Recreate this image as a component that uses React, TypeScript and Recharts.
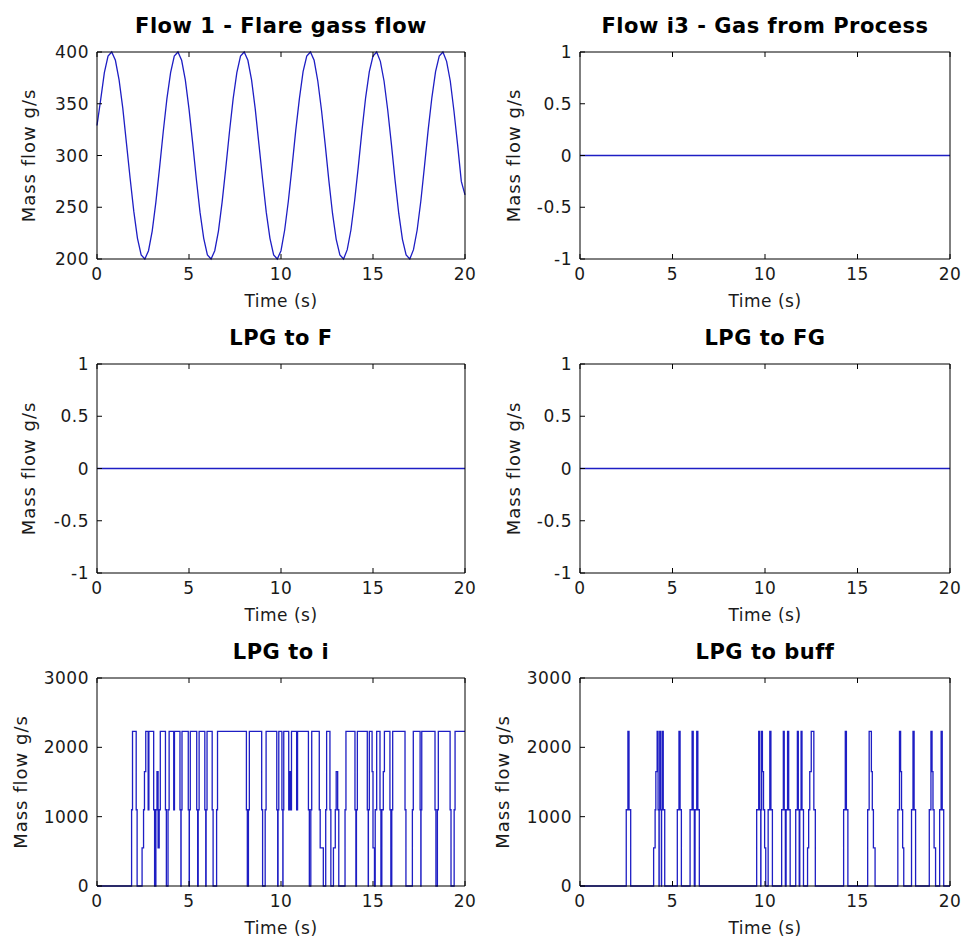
import { LineChart, Line, XAxis, YAxis } from 'recharts';

const FONT = '"DejaVu Sans", Arial, sans-serif';
const LINE = '#1e1ec4';
const INK = '#1a1a1a';

const timeTicks = [0, 5, 10, 15, 20];
const flareTicks = [200, 250, 300, 350, 400];
const zeroTicks = [-1, -0.5, 0, 0.5, 1];
const lpgTicks = [0, 1000, 2000, 3000];

// Flow 1 - Flare gass flow, one value every 0.2 s from t = 0 to 20
const flareStep = 0.2;
const flareFlow = [
  329, 354, 380, 396, 400, 392, 373, 346, 312, 278,
  246, 220, 204, 200, 208, 227, 255, 288, 323, 355,
  380, 396, 400, 392, 373, 345, 312, 277, 245, 220,
  204, 200, 208, 227, 255, 288, 323, 355, 380, 396,
  400, 392, 373, 345, 311, 277, 245, 220, 204, 200,
  208, 228, 256, 289, 324, 355, 381, 396, 400, 392,
  372, 344, 311, 276, 244, 219, 204, 200, 209, 228,
  256, 289, 324, 356, 381, 396, 400, 391, 372, 344,
  311, 276, 244, 219, 204, 200, 209, 228, 256, 290,
  325, 356, 381, 396, 400, 391, 372, 343, 310, 275, 262,
];

// flat channels (i3, LPG to F, LPG to FG)
const zeroTime = [0, 20];
const zeroFlow = [0, 0];

// LPG to i: [time, value] steps
const lpgToI: [number, number][] = [
  [0, 0],
  [1.88, 1100], [1.93, 2230], [2.13, 1100], [2.18, 0],
  [2.45, 550], [2.53, 1100], [2.58, 1650], [2.65, 2230], [2.78, 1100], [2.82, 2230], [3.08, 1100], [3.13, 0],
  [3.2, 1100], [3.26, 1650], [3.32, 550], [3.38, 1100], [3.44, 2230], [3.72, 1100], [3.77, 0],
  [3.86, 1100], [3.92, 2230], [4.17, 1100], [4.21, 2230], [4.51, 1100], [4.56, 0],
  [4.57, 1100], [4.62, 2230], [4.96, 1100], [5.01, 0],
  [5.02, 1100], [5.07, 2230], [5.42, 1100], [5.47, 0],
  [5.5, 1100], [5.55, 2230], [5.86, 1100], [5.91, 0],
  [5.93, 1100], [5.98, 2230], [6.26, 1100], [6.31, 0],
  [6.5, 1100], [6.55, 2230], [8.12, 1100], [8.17, 0],
  [8.23, 1100], [8.28, 2230], [8.95, 1100], [9.0, 0],
  [9.14, 1100], [9.19, 2230], [9.77, 1100], [9.82, 0],
  [9.84, 1100], [9.88, 2230], [10.05, 1100], [10.1, 0],
  [10.11, 1100], [10.15, 2230], [10.42, 1100], [10.46, 1650], [10.52, 1100], [10.57, 2230], [10.85, 1100],
  [10.9, 2230], [11.49, 1100], [11.54, 0],
  [11.62, 1100], [11.67, 2230], [12.08, 1100], [12.13, 550], [12.3, 0],
  [12.43, 1100], [12.48, 2230], [12.66, 1100], [12.71, 0],
  [12.85, 550], [12.95, 1100], [13.0, 1650], [13.08, 1100], [13.14, 0],
  [13.48, 1100], [13.53, 2230], [14.02, 1100], [14.07, 0],
  [14.1, 1100], [14.15, 2230], [14.69, 1100], [14.74, 0],
  [14.75, 1100], [14.8, 2230], [14.95, 1650], [15.0, 550], [15.08, 0],
  [15.12, 1100], [15.2, 2230], [15.38, 1100], [15.43, 0],
  [15.48, 1100], [15.56, 1650], [15.62, 2230], [15.92, 1100], [15.97, 0],
  [16.02, 1100], [16.07, 2230], [16.74, 1100], [16.79, 0],
  [17.14, 1100], [17.19, 2230], [17.56, 1100], [17.6, 0],
  [17.61, 1100], [17.65, 2230], [18.37, 1100], [18.42, 0],
  [18.5, 1100], [18.55, 2230], [19.19, 1100], [19.24, 0],
  [19.41, 1100], [19.46, 2230], [20, 2230],
];

// LPG to buff: [time, value] steps
const lpgToBuff: [number, number][] = [
  [0, 0],
  [2.5, 1100], [2.59, 2230], [2.65, 1100], [2.74, 0],
  [3.98, 550], [4.06, 1100], [4.1, 1650], [4.17, 2230], [4.22, 1100], [4.27, 0],
  [4.28, 1100], [4.31, 2230], [4.36, 1100], [4.4, 0],
  [4.41, 1100], [4.45, 2230], [4.5, 1100], [4.58, 0],
  [5.26, 1100], [5.35, 2230], [5.41, 1100], [5.48, 0],
  [5.95, 1100], [6.06, 2230], [6.12, 1100], [6.18, 0],
  [6.22, 1100], [6.31, 2230], [6.37, 1100], [6.45, 0],
  [9.55, 1100], [9.66, 2230], [9.72, 1100], [9.77, 0],
  [9.78, 1100], [9.82, 2230], [9.86, 1650], [9.92, 1100], [9.98, 550], [10.04, 0],
  [10.17, 1100], [10.26, 2230], [10.32, 1100], [10.4, 0],
  [10.9, 1100], [10.99, 2230], [11.04, 1100], [11.1, 0],
  [11.14, 1100], [11.22, 2230], [11.28, 1100], [11.36, 0],
  [11.66, 1100], [11.75, 2230], [11.8, 1100], [11.85, 0],
  [11.88, 1100], [11.95, 2230], [12.0, 1100], [12.08, 0],
  [12.3, 550], [12.36, 1100], [12.42, 1650], [12.5, 2230], [12.64, 1100], [12.72, 0],
  [14.25, 1100], [14.34, 2230], [14.4, 1100], [14.48, 0],
  [15.55, 1100], [15.63, 2230], [15.75, 1650], [15.8, 1100], [15.86, 550], [15.95, 0],
  [17.18, 1100], [17.27, 2230], [17.33, 1650], [17.38, 1100], [17.44, 550], [17.5, 0],
  [17.92, 1100], [18.0, 2230], [18.06, 1100], [18.14, 0],
  [18.88, 1100], [18.97, 2230], [19.03, 1650], [19.08, 1100], [19.14, 550], [19.22, 0],
  [19.44, 1100], [19.52, 2230], [19.58, 1100], [19.66, 0],
  [20, 0],
];

type Pt = { t: number; v: number };

const flareData: Pt[] = flareFlow.map((v, i) => ({ t: i * flareStep, v }));
const zeroData: Pt[] = zeroTime.map((t, i) => ({ t, v: zeroFlow[i] }));
const lpgIData: Pt[] = lpgToI.map(([t, v]) => ({ t, v }));
const lpgBuffData: Pt[] = lpgToBuff.map(([t, v]) => ({ t, v }));

const tickStyle = { fill: INK, fontSize: 17, fontFamily: FONT, letterSpacing: 0.5 };

interface PanelProps {
  title: string;
  data: Pt[];
  yDomain: [number, number];
  yTicks: number[];
  left: number;
  boxTop: number;
  boxH: number;
  labelX: number;
  step?: boolean;
}

function Panel({ data, yDomain, yTicks, left, boxTop, boxH, labelX, step }: PanelProps) {
  const height = 13 + boxH + 60;
  const rightM = left === 0 ? 14 : 12;
  return (
    <div style={{ position: 'absolute', left, top: boxTop - 13 }}>
      <LineChart
        width={480}
        height={height}
        data={data}
        margin={{ top: 12, right: rightM, left: 0, bottom: 0 }}
      >
        <XAxis
          dataKey="t"
          type="number"
          domain={[0, 20]}
          ticks={timeTicks}
          tickSize={-5}
          tickMargin={14}
          height={60}
          stroke="#000"
          tick={tickStyle}
          label={{
            value: 'Time (s)', position: 'insideTop', offset: 36,
            fill: INK, fontSize: 17, fontFamily: FONT, letterSpacing: 0.5,
          }}
        />
        <XAxis
          xAxisId="top"
          orientation="top"
          dataKey="t"
          type="number"
          domain={[0, 20]}
          ticks={timeTicks}
          tickSize={-5}
          height={1}
          stroke="#000"
          tickFormatter={() => ''}
        />
        <YAxis
          type="number"
          domain={yDomain}
          ticks={yTicks}
          tickSize={-5}
          tickMargin={13}
          width={97}
          stroke="#000"
          tick={tickStyle}
          label={{
            value: 'Mass flow g/s', angle: -90, position: 'insideLeft', offset: labelX,
            fill: INK, fontSize: 18, fontFamily: FONT, letterSpacing: 1,
            style: { textAnchor: 'middle' },
          }}
        />
        <YAxis
          yAxisId="right"
          orientation="right"
          type="number"
          domain={yDomain}
          ticks={yTicks}
          tickSize={-5}
          width={1}
          stroke="#000"
          tickFormatter={() => ''}
        />
        <Line
          dataKey="v"
          type={step ? 'stepAfter' : 'linear'}
          stroke={LINE}
          strokeWidth={1.3}
          dot={false}
          activeDot={false}
          isAnimationActive={false}
        />
      </LineChart>
    </div>
  );
}

const panels: PanelProps[] = [
  { title: 'Flow 1 - Flare gass flow', data: flareData, yDomain: [200, 400], yTicks: flareTicks, left: 0, boxTop: 52, boxH: 207, labelX: 29 },
  { title: 'Flow i3 - Gas from Process', data: zeroData, yDomain: [-1, 1], yTicks: zeroTicks, left: 483, boxTop: 52, boxH: 207, labelX: 31 },
  { title: 'LPG to F', data: zeroData, yDomain: [-1, 1], yTicks: zeroTicks, left: 0, boxTop: 364, boxH: 209, labelX: 29 },
  { title: 'LPG to FG', data: zeroData, yDomain: [-1, 1], yTicks: zeroTicks, left: 483, boxTop: 364, boxH: 209, labelX: 31 },
  { title: 'LPG to i', data: lpgIData, yDomain: [0, 3000], yTicks: lpgTicks, left: 0, boxTop: 678, boxH: 208, labelX: 21, step: true },
  { title: 'LPG to buff', data: lpgBuffData, yDomain: [0, 3000], yTicks: lpgTicks, left: 483, boxTop: 678, boxH: 208, labelX: 20, step: true },
];

export default function App() {
  return (
    <div
      style={{
        position: 'absolute', left: 0, top: 0, width: 963, height: 947,
        background: '#fff', fontFamily: FONT, overflow: 'hidden',
      }}
    >
      {panels.map((p) => (
        <Panel key={p.title} {...p} />
      ))}
      <svg width={963} height={947} style={{ position: 'absolute', left: 0, top: 0, pointerEvents: 'none' }}>
        {panels.map((p) => {
          const plotLeft = p.left + 97;
          const plotRight = p.left === 0 ? 465 : 950;
          return (
            <text
              key={p.title}
              x={(plotLeft + plotRight) / 2}
              y={p.boxTop - 19}
              textAnchor="middle"
              fontFamily={FONT}
              fontWeight="bold"
              fontSize={21}
              letterSpacing={0.5}
              fill="#000"
            >
              {p.title}
            </text>
          );
        })}
      </svg>
    </div>
  );
}
